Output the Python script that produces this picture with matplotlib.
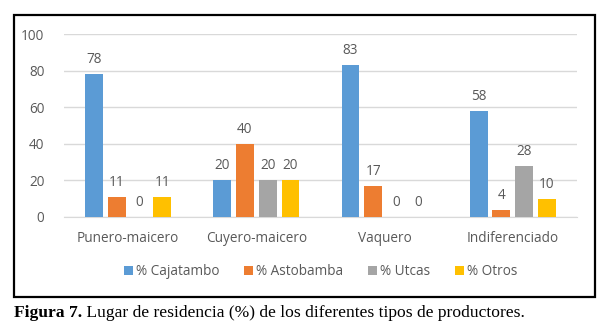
import matplotlib
matplotlib.use('Agg')
import matplotlib.pyplot as plt
import numpy as np
from matplotlib.patches import Rectangle

categories = ['Punero-maicero', 'Cuyero-maicero', 'Vaquero', 'Indiferenciado']
series_names = ['% Cajatambo', '% Astobamba', '% Utcas', '% Otros']
cajatambo = [78, 20, 83, 58]
astobamba = [11, 40, 17, 4]
utcas = [0, 20, 0, 28]
otros = [11, 20, 0, 10]
colors = ['#5B9BD5', '#ED7D31', '#A5A5A5', '#FFC000']
caption_bold = 'Figura 7.'
caption_rest = ' Lugar de residencia (%) de los diferentes tipos de productores.'

W, H = 610, 336
fig = plt.figure(figsize=(W / 100, H / 100), dpi=100)
text_color = '#595959'
font = 'Open Sans'
fs = 9.8

# chart frame
fig.patches.append(Rectangle((14 / W, 1 - 297 / H), 581 / W, 282 / H,
                             transform=fig.transFigure, fill=False,
                             edgecolor='black', linewidth=1.6))

ax = fig.add_axes([64 / W, 1 - 217 / H, 513 / W, 183 / H])
x = np.arange(len(categories))
width = 0.14
offsets = [-0.266, -0.089, 0.089, 0.266]
for vals, name, col, off in zip([cajatambo, astobamba, utcas, otros],
                                series_names, colors, offsets):
    bars = ax.bar(x + off, vals, width, color=col, label=name, zorder=3)
    for b, v in zip(bars, vals):
        ax.annotate(str(v), (b.get_x() + b.get_width() / 2, v),
                    xytext=(0, 5), textcoords='offset points',
                    ha='center', va='bottom', fontsize=fs,
                    color=text_color, family=font)

ax.set_xlim(-0.5, 3.5)
ax.set_ylim(0, 100)
ax.set_yticks(range(0, 101, 20))
ax.set_xticks(x)
ax.set_xticklabels(categories)
ax.grid(axis='y', color='#D9D9D9', linewidth=1, zorder=0)
for s in ['top', 'right', 'left']:
    ax.spines[s].set_visible(False)
ax.spines['bottom'].set_color('#D9D9D9')
ax.tick_params(length=0, colors=text_color, labelsize=fs)
ax.tick_params(axis='x', pad=10)
ax.tick_params(axis='y', pad=14)
for lab in ax.get_xticklabels() + ax.get_yticklabels():
    lab.set_family(font)

ax.legend(loc='center', bbox_to_anchor=(0.5, -0.3), ncol=4, frameon=False,
          handlelength=0.7, handleheight=0.7, handletextpad=0.2,
          columnspacing=1.8, prop={'family': font, 'size': fs},
          labelcolor=text_color)

# caption
t1 = fig.text(14 / W, 1 - 313 / H, caption_bold, fontsize=12.6,
              family='Liberation Serif', weight='bold', va='center')
fig.canvas.draw()
bb = t1.get_window_extent()
fig.text(bb.x1 / W, 1 - 313 / H, caption_rest, fontsize=12.6,
         family='Liberation Serif', va='center')

fig.savefig('out.png', dpi=100)
